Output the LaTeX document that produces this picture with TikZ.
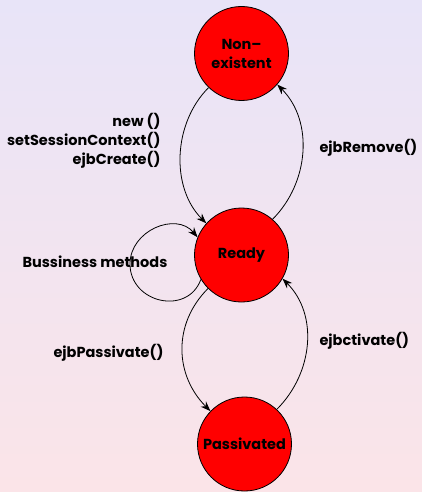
\documentclass[tikz,border=0pt]{standalone}
\usepackage{fontspec}
\setmainfont{Poppins}
\usepackage{tikz}
\usetikzlibrary{arrows.meta}
\definecolor{bgtop}{RGB}{232,228,248}
\definecolor{bgbot}{RGB}{251,228,232}
\definecolor{statered}{RGB}{255,0,0}
\begin{document}
\begin{tikzpicture}[x=1pt, y=1pt,
    state/.style={circle, draw, fill=statered, line width=0.8pt, minimum size=94pt, inner sep=0pt, align=center, font=\bfseries\fontsize{14.5}{19}\selectfont},
    trans/.style={-{Stealth[length=10pt, width=7.5pt]}, line width=0.8pt},
    lbl/.style={align=right, font=\bfseries\fontsize{14.5}{19}\selectfont}]
    \shade[top color=bgtop, bottom color=bgbot] (0,0) rectangle (422,-492);
    \useasboundingbox (0,0) rectangle (422,-492);

    \node[state] at (241.5,-53.5)   (none) {Non--\\existent};
    \node[state] at (241.5,-255)    (ready) {Ready};
    \node[state] at (244.5,-444)    (passive) {Passivated};
    \coordinate (loopleft) at (130,-264);

    \node[lbl, anchor=east] at (164,-141)  (create) {new ()\\setSessionContext()\\ejbCreate()};
    \node[lbl, anchor=west] at (316,-148)  (remove) {ejbRemove()};
    \node[lbl, anchor=west] at (19,-262)   (business) {Bussiness methods};
    \node[lbl, anchor=east] at (167,-353)  (passivate) {ejbPassivate()};
    \node[lbl, anchor=west] at (316,-341)  (activate) {ejbctivate()};

    \draw [trans] (none.226) to[out=225, in=135, looseness=0.95] (ready.138);
    \draw [trans] (ready.49) to[out=45, in=-45, looseness=0.98] (none.319);
    \draw [trans] (ready.211) to[out=250, in=-90, looseness=1.38] (loopleft)
                              to[out=90, in=130, looseness=1.18] (ready.158);
    \draw [trans] (ready.225) to[out=225, in=135, looseness=1.05] (passive.136);
    \draw [trans] (passive.47) to[out=45, in=-45, looseness=1.0] (ready.330);
\end{tikzpicture}
\end{document}
